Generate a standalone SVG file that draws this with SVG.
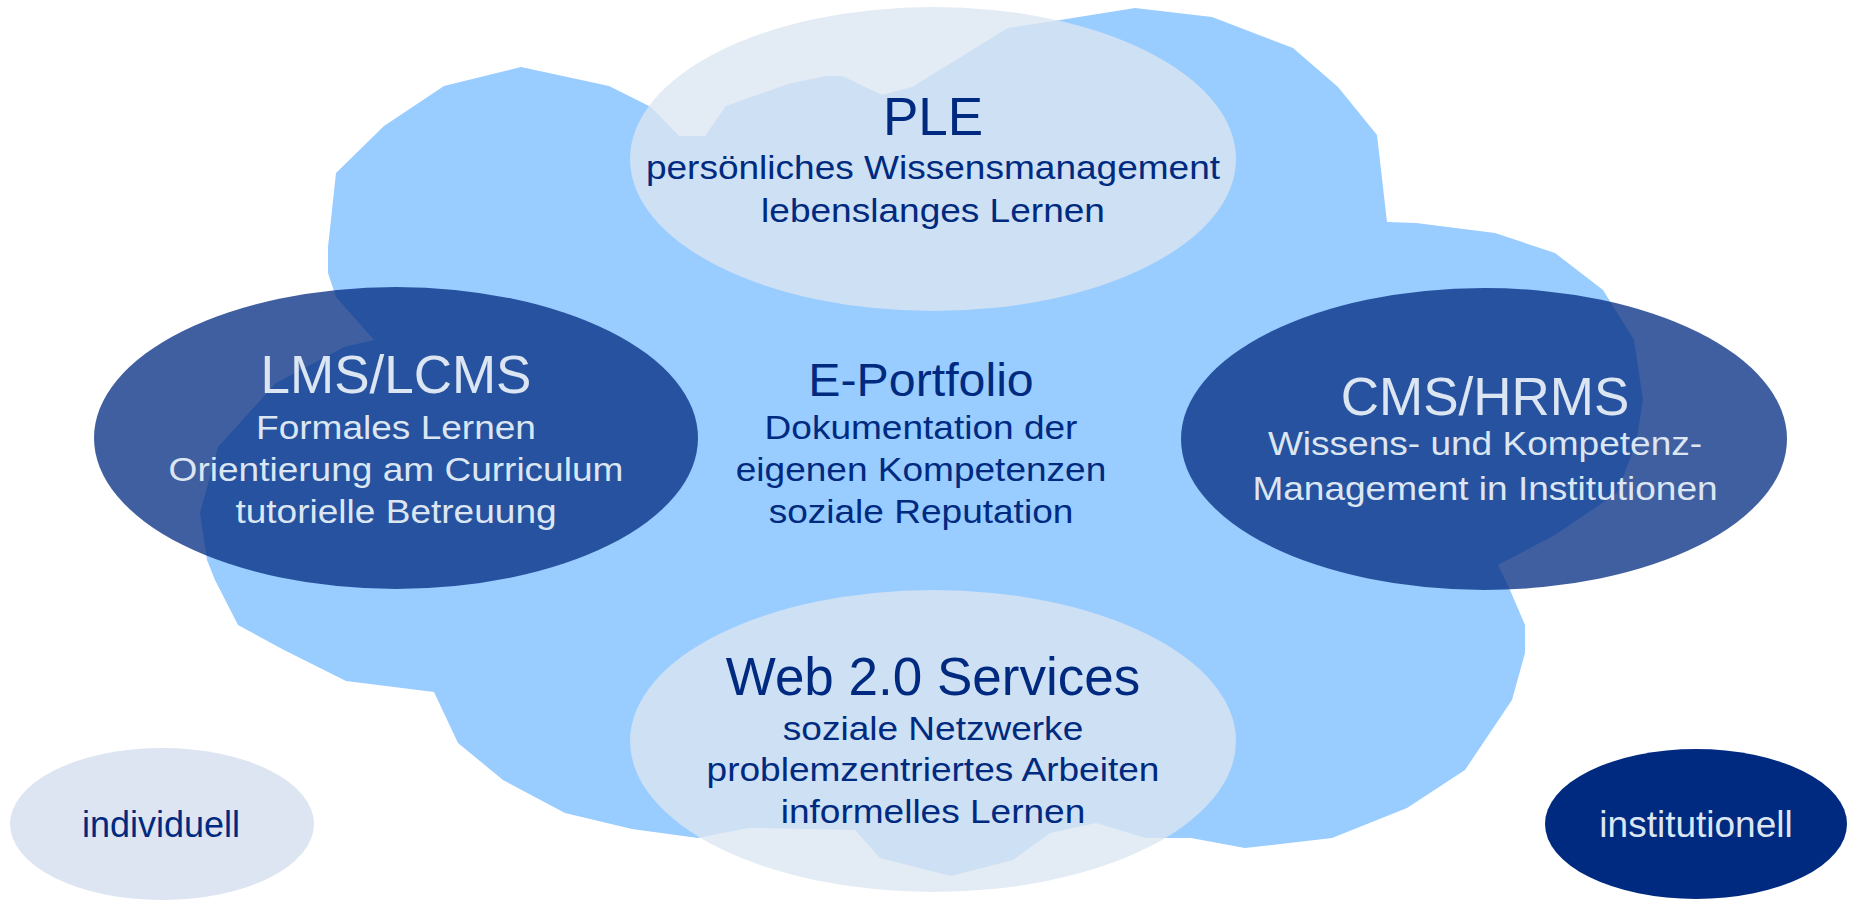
<svg xmlns="http://www.w3.org/2000/svg" width="1851" height="900" viewBox="0 0 1851 900">
<style>
text{font-family:"Liberation Sans",Arial,sans-serif;text-anchor:middle}
.dk{fill:#002A80}
.lt{fill:#DCE6F2}
.ttl{font-size:53px}
.sub{font-size:32.5px}
.lbl{font-size:36px}
.cloud{fill:#99CCFF}
.lightE{fill:#DBE5F1;fill-opacity:0.78}
.darkE{fill:#002A80;fill-opacity:0.75}
</style>
<rect width="1851" height="900" fill="#FFFFFF"/>
<g id="cloud">
<polygon class="cloud" points="328,273 328,247 336,173 384,126 444,86 521,67 609,86 651,107 679,136 705,136 726,106 788,84 826,76 842,76 882,95 912,87 1008,28 1054,21 1135,8 1212,17 1293,48 1338,87 1377,135 1387,222 1416,223 1495,233 1555,253 1603,290 1634,340 1643,400 1636,443 1617,493 1555,535 1498,565 1510,590 1525,625 1525,653 1512,700 1465,770 1407,808 1332,838 1245,848 1191,838 1146,838 1096,823 1050,833 1013,860 951,876 880,858 855,830 764,828 748,828 698,838 632,829 565,813 503,780 458,743 434,692 346,681 284,650 238,625 215,580 207,560 200,513 218,447 276,383 344,347 374,340 336,297"/>
</g>
<g id="connectors"></g>
<g id="ple">
<ellipse class="lightE" cx="933" cy="159" rx="303" ry="152"/>
<text class="dk ttl" x="933" y="135">PLE</text>
<g transform="translate(933 0) scale(1.14 1)">
<text class="dk sub" x="0" y="179">persönliches Wissensmanagement</text>
<text class="dk sub" x="0" y="222">lebenslanges Lernen</text>
</g>
</g>
<g id="lms">
<ellipse class="darkE" cx="396" cy="438" rx="302" ry="151"/>
<text class="lt ttl" x="396" y="393">LMS/LCMS</text>
<g transform="translate(396 0) scale(1.14 1)">
<text class="lt sub" x="0" y="439">Formales Lernen</text>
<text class="lt sub" x="0" y="481.5">Orientierung am Curriculum</text>
<text class="lt sub" x="0" y="523.5">tutorielle Betreuung</text>
</g>
</g>
<g id="cms">
<ellipse class="darkE" cx="1484" cy="439" rx="303" ry="151"/>
<text class="lt ttl" x="1485" y="415">CMS/HRMS</text>
<g transform="translate(1485 0) scale(1.14 1)">
<text class="lt sub" x="0" y="455">Wissens- und Kompetenz-</text>
<text class="lt sub" x="0" y="500">Management in Institutionen</text>
</g>
</g>
<g id="web">
<ellipse class="lightE" cx="933" cy="741" rx="303" ry="151"/>
<text class="dk ttl" x="933" y="695">Web 2.0 Services</text>
<g transform="translate(933 0) scale(1.14 1)">
<text class="dk sub" x="0" y="740">soziale Netzwerke</text>
<text class="dk sub" x="0" y="781.5">problemzentriertes Arbeiten</text>
<text class="dk sub" x="0" y="823.5">informelles Lernen</text>
</g>
</g>
<g id="eportfolio">
<g transform="translate(921 0) scale(1.05 1)">
<text class="dk" x="0" y="396.5" style="font-size:46px">E-Portfolio</text>
</g>
<g transform="translate(921 0) scale(1.14 1)">
<text class="dk sub" x="0" y="439">Dokumentation der</text>
<text class="dk sub" x="0" y="481.5">eigenen Kompetenzen</text>
<text class="dk sub" x="0" y="523.5">soziale Reputation</text>
</g>
</g>
<g id="individuell">
<ellipse cx="162" cy="824" rx="152" ry="76" fill="#DCE5F1"/>
<text class="dk lbl" x="161" y="836.5">individuell</text>
</g>
<g id="institutionell">
<ellipse cx="1696" cy="824" rx="151" ry="75" fill="#002A80"/>
<text class="lt lbl" x="1696" y="836.5" style="font-size:37px">institutionell</text>
</g>
</svg>
